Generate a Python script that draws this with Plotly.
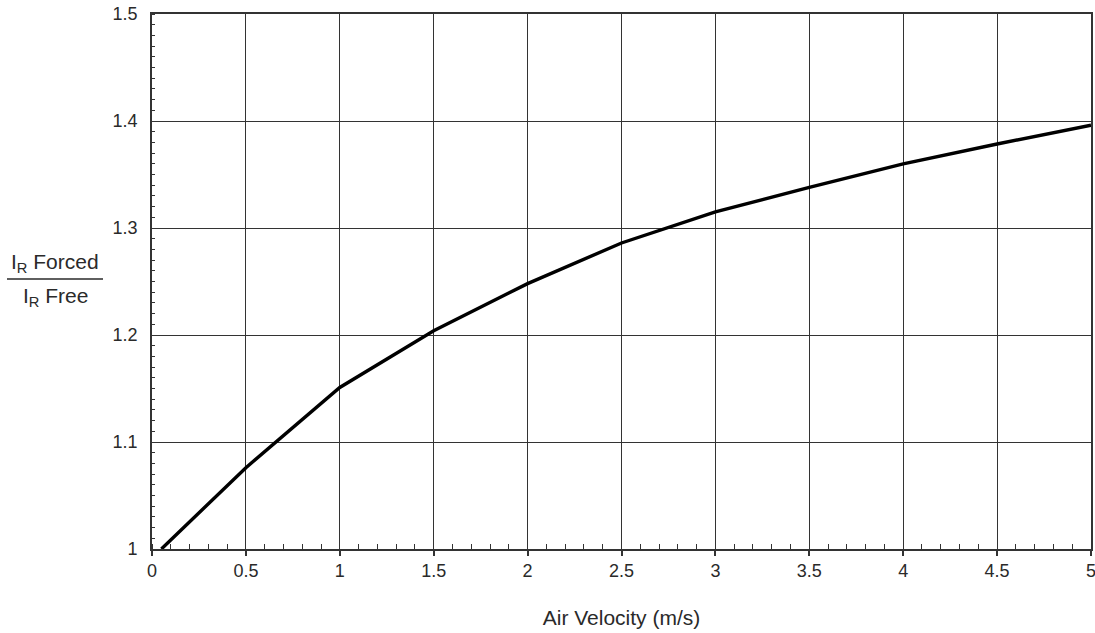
import plotly.graph_objects as go

velocity = [0.05, 0.5, 1.0, 1.5, 2.0, 2.5, 3.0, 3.5, 4.0, 4.5, 5.0]
ratio = [1.0, 1.076, 1.151, 1.204, 1.248, 1.286, 1.315, 1.338, 1.360, 1.3785, 1.396]

x_ticks = [0, 0.5, 1, 1.5, 2, 2.5, 3, 3.5, 4, 4.5, 5]
x_labels = ["0", "0.5", "1", "1.5", "2", "2.5", "3", "3.5", "4", "4.5", "5"]
y_ticks = [1.0, 1.1, 1.2, 1.3, 1.4, 1.5]
y_labels = ["1", "1.1", "1.2", "1.3", "1.4", "1.5"]

FONT = "Liberation Sans, Arial, sans-serif"
TXT = "#2a2a2a"
W, H = 1095, 633
L, R, T, B = 152, 4, 14, 84
PW = W - L - R
PH = H - T - B


def px_to_paper_x(px):
    return (px - L) / PW


def px_to_paper_y(py):
    return (H - B - py) / PH


fig = go.Figure()
fig.add_trace(go.Scatter(
    x=velocity, y=ratio, mode="lines",
    line=dict(color="black", width=3.4),
    showlegend=False, hoverinfo="skip",
))

fig.update_layout(
    width=W, height=H,
    margin=dict(l=L, r=R, t=T, b=B, autoexpand=False),
    paper_bgcolor="white", plot_bgcolor="white",
    font=dict(family=FONT, color=TXT, size=18),
    xaxis=dict(
        range=[0, 5], tickvals=x_ticks, ticktext=x_labels, automargin=False,
        ticklabeloverflow="allow",
        showgrid=True, gridcolor="#333", gridwidth=1.3,
        showline=True, linecolor="#333", linewidth=1.6, mirror=True,
        ticks="outside", ticklen=5, tickcolor="#333", tickwidth=1.5,
        minor=dict(dtick=0.1, tick0=0, ticks="inside", ticklen=5, tickcolor="#333",
                   tickwidth=1.3, showgrid=False),
        tickfont=dict(size=18, family=FONT, color=TXT),
        title=dict(text="Air Velocity (m/s)", font=dict(size=21, family=FONT, color=TXT),
                   standoff=30),
        zeroline=False,
    ),
    yaxis=dict(
        range=[1.0, 1.5], tickvals=y_ticks, ticktext=y_labels, automargin=False,
        ticklabeloverflow="allow",
        showgrid=True, gridcolor="#333", gridwidth=1.3,
        showline=True, linecolor="#333", linewidth=1.6, mirror=True,
        ticks="", ticklabelstandoff=9,
        minor=dict(dtick=0.01, tick0=1.0, ticks="inside", ticklen=3, tickcolor="#333",
                   tickwidth=1.3, showgrid=False),
        tickfont=dict(size=18, family=FONT, color=TXT),
        zeroline=False,
    ),
    annotations=[
        dict(text="I<sub>R</sub> Forced", x=px_to_paper_x(55), y=px_to_paper_y(263),
             xref="paper", yref="paper", showarrow=False,
             font=dict(size=21, family=FONT, color=TXT), xanchor="center", yanchor="middle"),
        dict(text="I<sub>R</sub> Free", x=px_to_paper_x(55), y=px_to_paper_y(297),
             xref="paper", yref="paper", showarrow=False,
             font=dict(size=21, family=FONT, color=TXT), xanchor="center", yanchor="middle"),
    ],
    shapes=[
        dict(type="line", xref="paper", yref="paper",
             x0=px_to_paper_x(7), x1=px_to_paper_x(103),
             y0=px_to_paper_y(279), y1=px_to_paper_y(279),
             line=dict(color=TXT, width=1.3)),
    ],
)

fig.write_html("out.html", config={"displayModeBar": False},
               post_script="document.body.style.margin='0px';")
